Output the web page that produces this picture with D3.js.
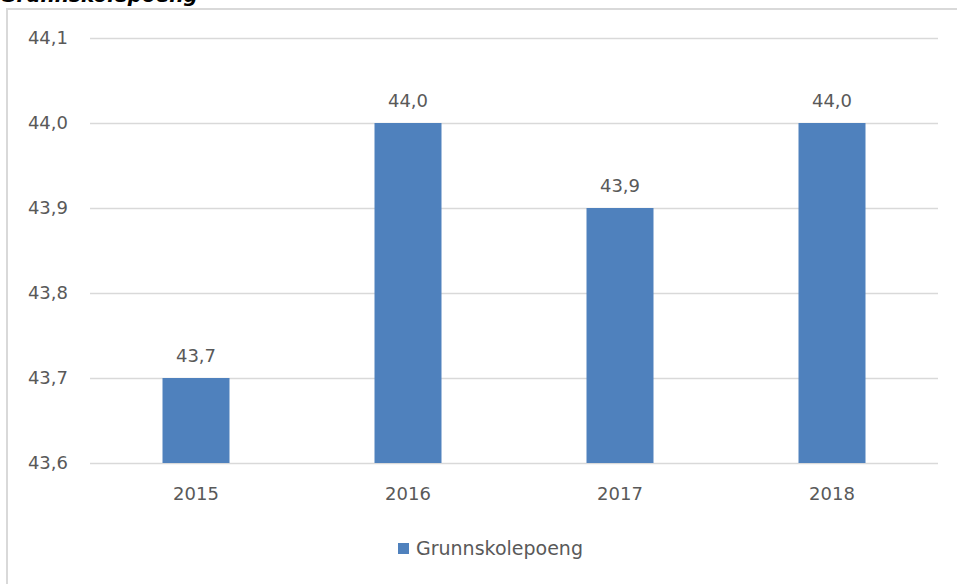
<!DOCTYPE html>
<html>
<head>
<meta charset="utf-8">
<script src="https://cdn.jsdelivr.net/npm/d3@7"></script>
<style>
  html, body { margin: 0; padding: 0; background: #fff; }
  svg { display: block; }
</style>
</head>
<body>
<svg id="chart" width="957" height="584"></svg>
<script>
const titleText = "Grunnskolepoeng";
const years = ["2015", "2016", "2017", "2018"];
const values = [43.7, 44.0, 43.9, 44.0];
const yTicks = [43.6, 43.7, 43.8, 43.9, 44.0, 44.1];
const seriesName = "Grunnskolepoeng";

const fmt = v => d3.format(".1f")(v).replace(".", ",");
const font = "'DejaVu Sans', sans-serif";
const textColor = "#595959";
const barColor = "#4f81bd";
const gridColor = "#d9d9d9";

const svg = d3.select("#chart");

// chart frame
svg.append("rect")
  .attr("x", 7).attr("y", 9)
  .attr("width", 1000).attr("height", 700)
  .attr("fill", "#fff")
  .attr("stroke", gridColor)
  .attr("stroke-width", 2);

// title (cut off at top, as in the reference)
svg.append("text")
  .attr("x", 0).attr("y", 2)
  .attr("font-family", font)
  .attr("font-weight", "bold")
  .attr("font-style", "italic")
  .attr("font-size", 20)
  .attr("fill", "#000")
  .text(titleText);

const x = d3.scaleBand()
  .domain(years)
  .range([90, 938])
  .paddingInner(0.684)
  .paddingOuter(0.342);

const y = d3.scaleLinear()
  .domain([43.6, 44.1])
  .range([463, 38]);

// gridlines + y labels via axis
const yAxis = d3.axisLeft(y)
  .tickValues(yTicks)
  .tickSize(-(938 - 90))
  .tickPadding(22)
  .tickFormat(fmt);

const gy = svg.append("g")
  .attr("transform", "translate(90,0)")
  .call(yAxis);
gy.select(".domain").remove();
gy.selectAll(".tick line").attr("stroke", gridColor).attr("stroke-width", 1.5);
gy.selectAll(".tick text")
  .attr("fill", textColor)
  .attr("font-family", font)
  .attr("font-size", 18);

// bars
svg.append("g").selectAll("rect")
  .data(years.map((d, i) => ({ year: d, value: values[i] })))
  .join("rect")
  .attr("x", d => x(d.year))
  .attr("y", d => y(d.value))
  .attr("width", x.bandwidth())
  .attr("height", d => y(43.6) - y(d.value))
  .attr("fill", barColor);

// value labels
svg.append("g").selectAll("text")
  .data(years.map((d, i) => ({ year: d, value: values[i] })))
  .join("text")
  .attr("x", d => x(d.year) + x.bandwidth() / 2)
  .attr("y", d => y(d.value) - 16)
  .attr("text-anchor", "middle")
  .attr("font-family", font)
  .attr("font-size", 18)
  .attr("fill", textColor)
  .text(d => fmt(d.value));

// x axis labels
const xAxis = d3.axisBottom(x).tickSize(0).tickPadding(24);
const gx = svg.append("g")
  .attr("transform", "translate(0,463)")
  .call(xAxis);
gx.select(".domain").remove();
gx.selectAll(".tick text")
  .attr("fill", textColor)
  .attr("font-family", font)
  .attr("font-size", 18);

// legend
const lg = svg.append("g");
lg.append("rect")
  .attr("x", 398).attr("y", 543)
  .attr("width", 11).attr("height", 11)
  .attr("fill", barColor);
lg.append("text")
  .attr("x", 416).attr("y", 555)
  .attr("font-family", font)
  .attr("font-size", 19)
  .attr("fill", textColor)
  .text(seriesName);
</script>
</body>
</html>
